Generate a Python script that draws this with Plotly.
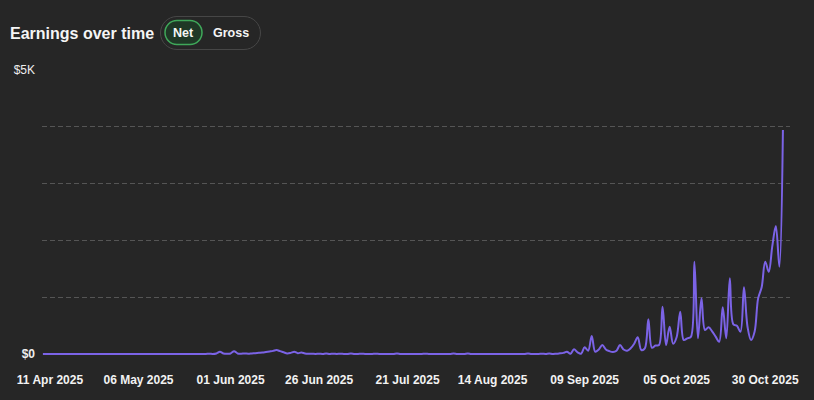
import pandas as pd
import plotly.graph_objects as go

# ---- data ----
start_date = "2025-04-09"
net_earnings = [
    0, 0, 0, 0, 0, 0, 0, 0, 0, 0,
    0, 0, 0, 0, 0, 0, 0, 0, 0, 0,
    0, 0, 0, 0, 0, 0, 0, 0, 0, 0,
    0, 0, 0, 0, 0, 0, 0, 0, 0, 0,
    0, 0, 0, 0, 0, 0, 0, 5, 0, 10,
    40, 10, 5, 10, 50, 10, 5, 10, 5, 10,
    15, 20, 25, 35, 45, 55, 70, 50, 30, 10,
    20, 40, 15, 25, 10, 5, 5, 0, 5, 0,
    10, 0, 5, 0, 5, 0, 0, 10, 0, 0,
    5, 0, 0, 0, 5, 0, 0, 0, 0, 0,
    10, 0, 0, 0, 0, 0, 0, 0, 5, 0,
    0, 0, 0, 0, 0, 0, 10, 0, 0, 0,
    10, 0, 0, 0, 0, 0, 0, 0, 0, 0,
    0, 0, 0, 0, 0, 0, 0, 10, 0, 0,
    0, 5, 0, 10, 0, 5, 12, 20, 40, 5,
    83, 30, 5, 118, 58, 317, 40, 80, 158, 80,
    50, 35, 58, 158, 80, 58, 100, 180, 294, 70,
    100, 610, 110, 150, 158, 833, 158, 480, 180, 300,
    745, 246, 276, 300, 1625, 276, 980, 422, 470, 400,
    305, 216, 822, 276, 1332, 522, 498, 392, 1174, 480,
    246, 392, 980, 1174, 1625, 1448, 1900, 2253, 1536, 3942,
]
dates = pd.date_range(start_date, periods=len(net_earnings), freq="D")

tick_dates = ["2025-04-11", "2025-05-06", "2025-06-01", "2025-06-26", "2025-07-21",
              "2025-08-14", "2025-09-09", "2025-10-05", "2025-10-30"]
tick_labels = ["11 Apr 2025", "06 May 2025", "01 Jun 2025", "26 Jun 2025", "21 Jul 2025",
               "14 Aug 2025", "09 Sep 2025", "05 Oct 2025", "30 Oct 2025"]
y_tick_vals = [0, 5000]
y_tick_labels = ["<b>$0</b>", "$5K"]
grid_vals = [1000, 2000, 3000, 4000]

# ---- layout geometry ----
W, H = 814, 400
L, R, T, B = 42, 24, 70, 45
PW, PH = W - L - R, H - T - B
BG = "#262626"


def px(x):
    return (x - L) / PW


def py(y):
    return (H - B - y) / PH


def pill(x0, y0, x1, y1, r):
    k = 0.5523 * r
    pts = [
        ("M", [(x0 + r, y0)]),
        ("L", [(x1 - r, y0)]),
        ("C", [(x1 - r + k, y0), (x1, y0 + r - k), (x1, y0 + r)]),
        ("L", [(x1, y1 - r)]),
        ("C", [(x1, y1 - r + k), (x1 - r + k, y1), (x1 - r, y1)]),
        ("L", [(x0 + r, y1)]),
        ("C", [(x0 + r - k, y1), (x0, y1 - r + k), (x0, y1 - r)]),
        ("L", [(x0, y0 + r)]),
        ("C", [(x0, y0 + r - k), (x0 + r - k, y0), (x0 + r, y0)]),
    ]
    s = ""
    for cmd, ps in pts:
        s += cmd + " " + " ".join(f"{px(a):.5f},{py(b):.5f}" for a, b in ps) + " "
    return s + "Z"


fig = go.Figure()
fig.add_trace(go.Scatter(
    x=dates, y=net_earnings, mode="lines",
    line=dict(color="#7B63E6", width=2, shape="spline", smoothing=1.0),
    hoverinfo="skip",
))

fig.update_layout(
    width=W, height=H,
    margin=dict(l=L, r=R, t=T, b=B),
    paper_bgcolor=BG, plot_bgcolor=BG,
    showlegend=False,
    font=dict(family="Liberation Sans, Arial, sans-serif", color="#f0f0f0"),
    xaxis=dict(
        type="date",
        range=["2025-04-08 18:00", "2025-11-06 00:00"],
        tickvals=tick_dates, ticktext=tick_labels,
        tickfont=dict(size=12, color="#f2f2f2", weight="bold"),
        showgrid=False, zeroline=False, showline=False, ticks="",
        ticklabelstandoff=16,
    ),
    yaxis=dict(
        range=[-17.6, 5000],
        tickvals=y_tick_vals, ticktext=y_tick_labels,
        tickfont=dict(size=12, color="#eeeeee"),
        showgrid=False, zeroline=False, showline=False, ticks="",
        ticklabelstandoff=6,
        minor=dict(tickvals=grid_vals, showgrid=True, gridcolor="#555555",
                   griddash="5px,3px", gridwidth=1, ticks=""),
    ),
    shapes=[
        dict(type="path", xref="paper", yref="paper", path=pill(160.5, 16.5, 260.5, 49.5, 16.5),
             line=dict(color="#474747", width=1), fillcolor=BG, layer="above"),
        dict(type="path", xref="paper", yref="paper", path=pill(165, 20.5, 202, 44.5, 12),
             line=dict(color="#3fa85a", width=1.5), fillcolor="#1f3826", layer="above"),
    ],
    annotations=[
        dict(text="<b>Earnings over time</b>", xref="paper", yref="paper",
             x=px(8), y=py(33), xanchor="left", yanchor="middle", showarrow=False,
             font=dict(size=16, color="#f5f5f5")),
        dict(text="<b>Net</b>", xref="paper", yref="paper",
             x=px(183.5), y=py(32.5), xanchor="center", yanchor="middle", showarrow=False,
             font=dict(size=12.5, color="#f5f5f5")),
        dict(text="<b>Gross</b>", xref="paper", yref="paper",
             x=px(231), y=py(32.5), xanchor="center", yanchor="middle", showarrow=False,
             font=dict(size=12.5, color="#f5f5f5")),
    ],
)

fig.write_html(
    "out.html",
    config={"displayModeBar": False},
    post_script="document.body.style.margin='0';document.body.style.background='#262626';",
)
